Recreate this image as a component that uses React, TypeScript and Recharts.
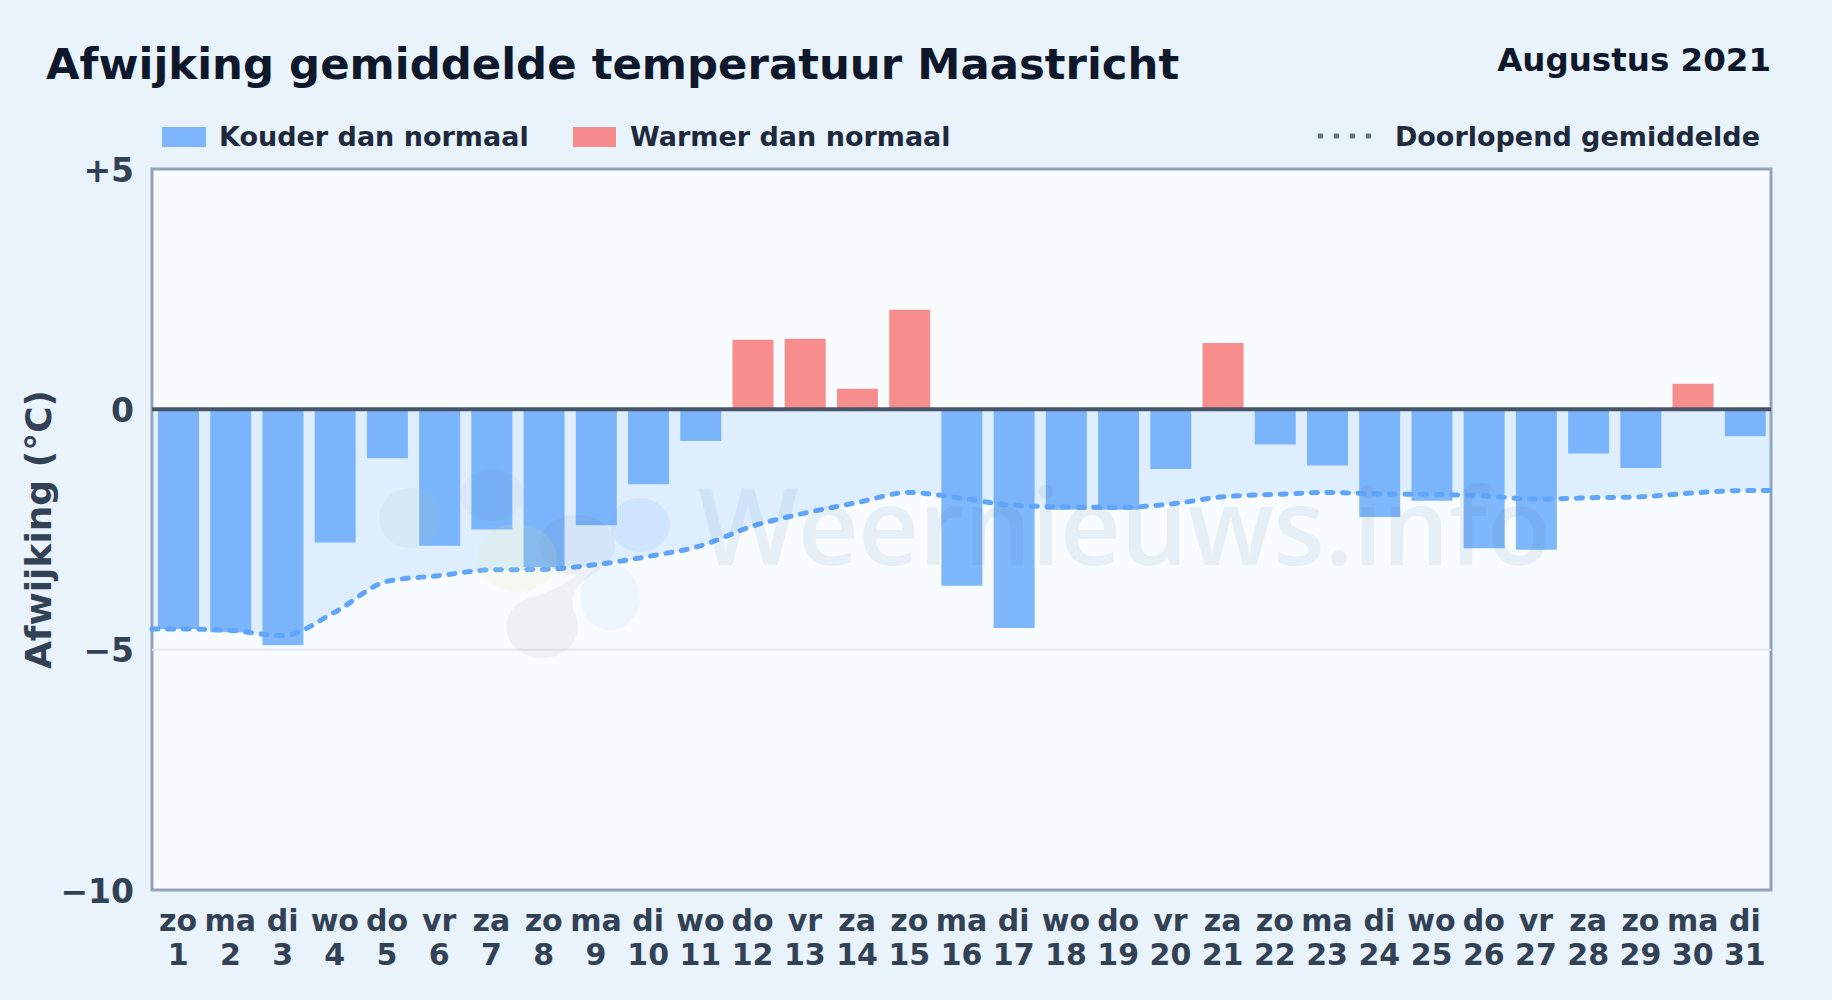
import {
  ComposedChart,
  Area,
  Bar,
  Cell,
  Line,
  XAxis,
  YAxis,
  ReferenceArea,
  ReferenceLine,
  Label,
} from 'recharts';

const days = [1, 2, 3, 4, 5, 6, 7, 8, 9, 10, 11, 12, 13, 14, 15, 16, 17, 18, 19, 20, 21, 22, 23, 24, 25, 26, 27, 28, 29, 30, 31];
const weekdays = ['zo', 'ma', 'di', 'wo', 'do', 'vr', 'za', 'zo', 'ma', 'di', 'wo', 'do', 'vr', 'za', 'zo', 'ma', 'di', 'wo', 'do', 'vr', 'za', 'zo', 'ma', 'di', 'wo', 'do', 'vr', 'za', 'zo', 'ma', 'di'];
const deviation = [-4.57, -4.64, -4.91, -2.77, -1.02, -2.84, -2.5, -3.28, -2.41, -1.56, -0.66, 1.45, 1.47, 0.43, 2.07, -3.67, -4.55, -2.09, -2.09, -1.24, 1.38, -0.73, -1.17, -2.24, -1.9, -2.89, -2.92, -0.92, -1.22, 0.53, -0.56];
const runningMean = [-4.57, -4.6, -4.71, -4.22, -3.58, -3.46, -3.34, -3.33, -3.23, -3.06, -2.84, -2.43, -2.16, -1.94, -1.73, -1.85, -2.0, -2.03, -2.04, -1.97, -1.82, -1.77, -1.73, -1.76, -1.77, -1.8, -1.87, -1.84, -1.82, -1.74, -1.69];
const yTicks = [5, 0, -5, -10];

const FONT = '"DejaVu Sans", sans-serif';
const COLD = '#60a5fa';
const WARM = '#f87171';

const barData = days.map((day, i) => ({ day, value: deviation[i] }));

// the mean line and its fill run on to the plot edges, half a day past the first and last bar
const meanData = [
  { pos: 0.5, mean: runningMean[0] },
  ...days.map((day, i) => ({ pos: day, mean: runningMean[i] })),
  { pos: 31.5, mean: runningMean[30] },
];

const formatY = (v: number) => (v > 0 ? `+${v}` : v < 0 ? `\u2212${-v}` : '0');

const DayTick = ({ x, y, payload }: any) => (
  <text x={x} y={y} textAnchor="middle" fontFamily={FONT} fontWeight={700} fontSize={30} fill="#334155">
    <tspan x={x} dy={33}>{weekdays[payload.value - 1]}</tspan>
    <tspan x={x} dy={34}>{payload.value}</tspan>
  </text>
);

const labelStyle = { position: 'absolute' as const, fontFamily: FONT, fontWeight: 700, whiteSpace: 'nowrap' as const };

function Header() {
  return (
    <>
      <div style={{ ...labelStyle, left: 46, top: 39, fontSize: 43.4, color: '#0f172a' }}>
        Afwijking gemiddelde temperatuur Maastricht
      </div>
      <div style={{ ...labelStyle, right: 61, top: 41, fontSize: 32.5, color: '#0f172a' }}>Augustus 2021</div>
      <div style={{ position: 'absolute', left: 162, top: 127, width: 44, height: 20, background: COLD, opacity: 0.8 }} />
      <div style={{ ...labelStyle, left: 219, top: 121, fontSize: 27, color: '#1e293b' }}>Kouder dan normaal</div>
      <div style={{ position: 'absolute', left: 573, top: 127, width: 43, height: 20, background: WARM, opacity: 0.8 }} />
      <div style={{ ...labelStyle, left: 630, top: 121, fontSize: 27, color: '#1e293b' }}>Warmer dan normaal</div>
      <svg style={{ position: 'absolute', left: 1318, top: 130 }} width={60} height={12}>
        <line x1={0} x2={60} y1={6} y2={6} stroke="#64748b" strokeWidth={5} strokeDasharray="5 11" />
      </svg>
      <div style={{ ...labelStyle, right: 72, top: 121, fontSize: 27, color: '#1e293b' }}>Doorlopend gemiddelde</div>
    </>
  );
}

function Watermark() {
  return (
    <svg style={{ position: 'absolute', left: 0, top: 0, pointerEvents: 'none' }} width={1832} height={1000}>
      <ellipse cx={410} cy={518} rx={31} ry={30} fill="#a3c9a8" opacity={0.12} />
      <ellipse cx={492} cy={495} rx={32} ry={26} fill="#64748b" opacity={0.05} />
      <ellipse cx={517} cy={558} rx={40} ry={34} fill="#d9e8a0" opacity={0.14} />
      <g opacity={0.07} fill="#64748b">
        <ellipse cx={577} cy={545} rx={38} ry={30} />
        <path d="M 590 565 Q 560 590 530 598 L 578 620 Q 560 590 600 570 Z" />
        <ellipse cx={542} cy={627} rx={36} ry={31} />
      </g>
      <ellipse cx={640} cy={525} rx={30} ry={27} fill="#60a5fa" opacity={0.12} />
      <ellipse cx={610} cy={597} rx={30} ry={33} fill="#60a5fa" opacity={0.07} />
      <text x={698} y={565} fontFamily='"Open Sans", sans-serif' fontWeight={600} fontSize={106} letterSpacing={-0.5} fill="#3b6ea5" opacity={0.09}>
        Weernieuws.info
      </text>
    </svg>
  );
}

export default function App() {
  return (
    <div style={{ position: 'absolute', left: 0, top: 0, width: 1832, height: 1000, background: '#e8f3fc', overflow: 'hidden' }}>
      <Header />
      <ComposedChart
        width={1832}
        height={1000}
        data={barData}
        barSize={41}
        margin={{ top: 169, right: 61, bottom: 0, left: 0 }}
        style={{ position: 'absolute', left: 0, top: 0 }}
      >
        <XAxis dataKey="day" interval={0} height={110} axisLine={false} tickLine={false} tick={<DayTick />} />
        <XAxis xAxisId="edge" dataKey="pos" type="number" domain={[0.5, 31.5]} hide />
        <YAxis
          type="number"
          domain={[-10, 5]}
          ticks={yTicks}
          width={152}
          axisLine={false}
          tickLine={false}
          tickFormatter={formatY}
          tick={{ fontFamily: FONT, fontWeight: 700, fontSize: 33, fill: '#334155', dy: 1 }}
          tickMargin={12}
        >
          <Label
            value="Afwijking (°C)"
            angle={-90}
            position="insideLeft"
            offset={38}
            style={{ fontFamily: FONT, fontWeight: 700, fontSize: 36, fill: '#334155', textAnchor: 'middle' }}
          />
        </YAxis>
        <ReferenceArea xAxisId="edge" x1={0.5} x2={31.5} y1={5} y2={-10} fill="#f8fcff" fillOpacity={1} stroke="#94a3b8" strokeWidth={3} />
        <ReferenceLine y={-5} stroke="#e2e8f0" strokeWidth={2} />
        <Area
          xAxisId="edge"
          data={meanData}
          dataKey="mean"
          type="monotone"
          baseValue={0}
          fill="#93c5fd"
          fillOpacity={0.24}
          stroke="none"
          isAnimationActive={false}
        />
        <Bar dataKey="value" barSize={41} isAnimationActive={false}>
          {barData.map((row) => (
            <Cell key={row.day} fill={row.value < 0 ? COLD : WARM} fillOpacity={0.8} />
          ))}
        </Bar>
        <ReferenceLine y={0} stroke="#475569" strokeWidth={4} />
        <Line
          xAxisId="edge"
          data={meanData}
          dataKey="mean"
          type="monotone"
          stroke="#60a5fa"
          strokeWidth={5}
          strokeDasharray="6 9.6"
          strokeLinecap="round"
          dot={false}
          isAnimationActive={false}
        />
      </ComposedChart>
      <Watermark />
    </div>
  );
}
